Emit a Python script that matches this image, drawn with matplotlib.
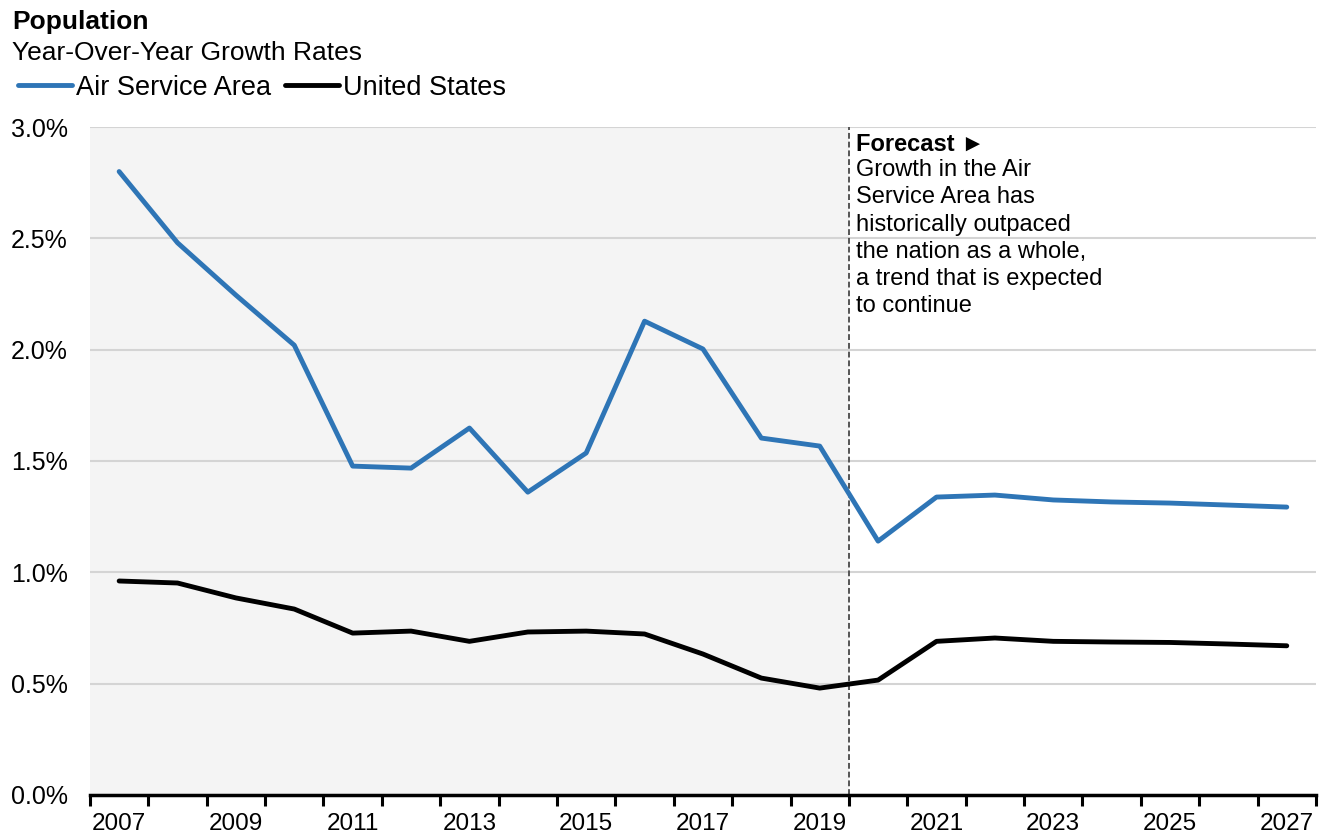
import matplotlib
matplotlib.use("Agg")
import matplotlib.pyplot as plt
from matplotlib.ticker import FuncFormatter

plt.rcParams["font.family"] = ["Liberation Sans", "DejaVu Sans"]

# ==========================
# Data
# ==========================
years = list(range(2007, 2028))
air_service_area = [2.80, 2.48, 2.245, 2.02, 1.477, 1.468, 1.648, 1.36, 1.536, 2.128, 2.003,
                    1.603, 1.567, 1.14, 1.338, 1.347, 1.325, 1.316, 1.311, 1.302, 1.293]
united_states = [0.961, 0.952, 0.885, 0.835, 0.727, 0.736, 0.69, 0.732, 0.736, 0.723, 0.633,
                 0.525, 0.48, 0.516, 0.69, 0.705, 0.69, 0.687, 0.685, 0.678, 0.67]
forecast_start = 2020
note_lines = ["Growth in the Air", "Service Area has", "historically outpaced",
              "the nation as a whole,", "a trend that is expected", "to continue"]

blue = "#2e75b6"

# ==========================
# Figure
# ==========================
fig = plt.figure(figsize=(13.19, 8.34), dpi=100)
ax = fig.add_axes([0.0682, 0.0468, 0.9295, 0.8009])

pos = list(range(len(years)))
split = years.index(forecast_start) - 0.5

ax.axvspan(-0.5, split, color="#f4f4f4", zorder=0, lw=0)
ax.axvline(split, color="#555555", lw=1.4, ls=(0, (3, 1.5)), zorder=2)

ax.plot(pos, air_service_area, color=blue, lw=3.5, zorder=3, label="Air Service Area",
        solid_capstyle="round")
ax.plot(pos, united_states, color="black", lw=3.5, zorder=3, label="United States",
        solid_capstyle="round")

ax.set_xlim(-0.5, len(years) - 0.5)
ax.set_ylim(0, 3.0)
ax.set_yticks([0, 0.5, 1.0, 1.5, 2.0, 2.5, 3.0])
ax.yaxis.set_major_formatter(FuncFormatter(lambda v, p: f"{v:.1f}%"))
ax.yaxis.grid(True, color="#d4d4d4", lw=1.5, zorder=1)
ax.set_axisbelow(True)
ax.tick_params(axis="y", length=0, labelsize=18, pad=16)

# category boundaries get tick marks, labels sit at every other center
ax.set_xticks([p - 0.5 for p in pos] + [len(pos) - 0.5])
ax.set_xticklabels([])
ax.tick_params(axis="x", which="major", length=8, width=2.2, color="black")
ax.set_xticks(pos[::2], minor=True)
ax.set_xticklabels([str(y) for y in years[::2]], minor=True)
ax.tick_params(axis="x", which="minor", length=0, labelsize=17.5, pad=13)

for s in ["top", "right", "left"]:
    ax.spines[s].set_visible(False)
ax.spines["bottom"].set_linewidth(2.5)
ax.spines["bottom"].set_zorder(4)

# forecast note
ax.text(split + 0.12, 2.975, "Forecast \u25ba", fontsize=17, fontweight="bold",
        va="top", ha="left", zorder=5)
ax.text(split + 0.12, 2.855, "\n".join(note_lines), fontsize=17, va="top", ha="left",
        linespacing=1.3, zorder=5)

# titles and legend
fig.text(0.009, 0.974, "Population", fontsize=19, fontweight="bold", va="center")
fig.text(0.009, 0.937, "Year-Over-Year Growth Rates", fontsize=19, va="center")
fig.legend(loc="center left", bbox_to_anchor=(0.0135, 0.895), ncol=2, frameon=False,
           fontsize=19.5, handlelength=2.0, handletextpad=0.15, columnspacing=0.5,
           borderaxespad=0, borderpad=0)

fig.savefig("out.png", dpi=100)
